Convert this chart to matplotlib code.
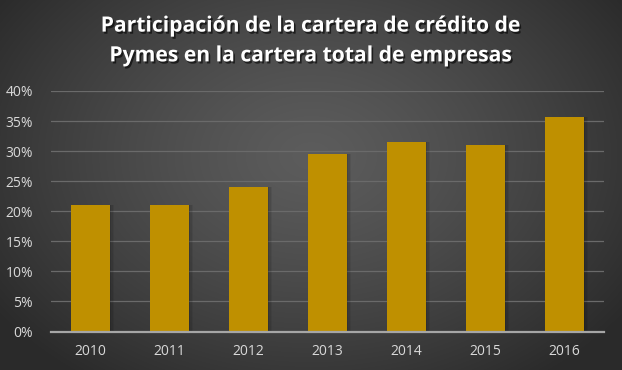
import numpy as np
import matplotlib
matplotlib.use("Agg")
import matplotlib.pyplot as plt
import matplotlib.patheffects as pe
from matplotlib.ticker import FuncFormatter

years = ["2010", "2011", "2012", "2013", "2014", "2015", "2016"]
values = [21.0, 21.0, 24.0, 29.6, 31.6, 31.1, 35.7]
title = "Participación de la cartera de crédito de\nPymes en la cartera total de empresas"

W, H = 622, 370
fig = plt.figure(figsize=(W / 100, H / 100), dpi=100)

# radial gradient background
bg = fig.add_axes([0, 0, 1, 1])
yy, xx = np.mgrid[0:H, 0:W]
cx, cy = W * 0.5, H * 0.42
r = np.sqrt(((xx - cx) / (W * 0.62)) ** 2 + ((yy - cy) / (H * 0.75)) ** 2)
r = np.clip(r, 0, 1)
inner, outer = 0x5c / 255, 0x2a / 255
g = inner + (outer - inner) * r ** 1.3
bg.imshow(np.dstack([g, g, g]), aspect="auto", extent=[0, 1, 0, 1], origin="upper")
bg.set_axis_off()

ax = fig.add_axes([51 / W, 1 - 331.5 / H, (604 - 51) / W, (331.5 - 91) / H])
ax.patch.set_alpha(0)
x = np.arange(len(years))
# soft shadow
for dx, a in [(0.05, 0.06), (0.035, 0.08), (0.02, 0.1)]:
    ax.bar(x + dx, values, width=0.49, color="black", alpha=a, zorder=2, linewidth=0)
ax.bar(x, values, width=0.49, color="#BF9000", zorder=3, linewidth=0)

ax.set_xlim(-0.5, len(years) - 0.5)
ax.set_ylim(0, 40)
ax.set_yticks(np.arange(0, 41, 5))
ax.yaxis.set_major_formatter(FuncFormatter(lambda v, p: f"{v:.0f}%"))
ax.set_xticks(x)
ax.set_xticklabels(years)
ax.grid(axis="y", color="#6a6a6a", linewidth=0.9, zorder=0)
ax.set_axisbelow(True)
for s in ["top", "right", "left"]:
    ax.spines[s].set_visible(False)
ax.spines["bottom"].set_color("#a6a6a6")
ax.spines["bottom"].set_linewidth(1.6)
ax.spines["bottom"].set_zorder(4)
ax.tick_params(axis="both", length=0, colors="#d9d9d9", labelsize=10)
ax.tick_params(axis="y", pad=13)
ax.tick_params(axis="x", pad=9)
for lab in ax.get_xticklabels() + ax.get_yticklabels():
    lab.set_family(["Open Sans", "DejaVu Sans"])

fig.text(0.5, 1 - 41 / H, title, ha="center", va="center", color="white",
         fontsize=15.2, fontweight="bold", family=["Open Sans", "DejaVu Sans"],
         linespacing=1.55,
         path_effects=[pe.SimplePatchShadow(offset=(1.2, -1.5), shadow_rgbFace="black", alpha=0.6),
                       pe.Normal()])

fig.savefig("out.png", dpi=100)
